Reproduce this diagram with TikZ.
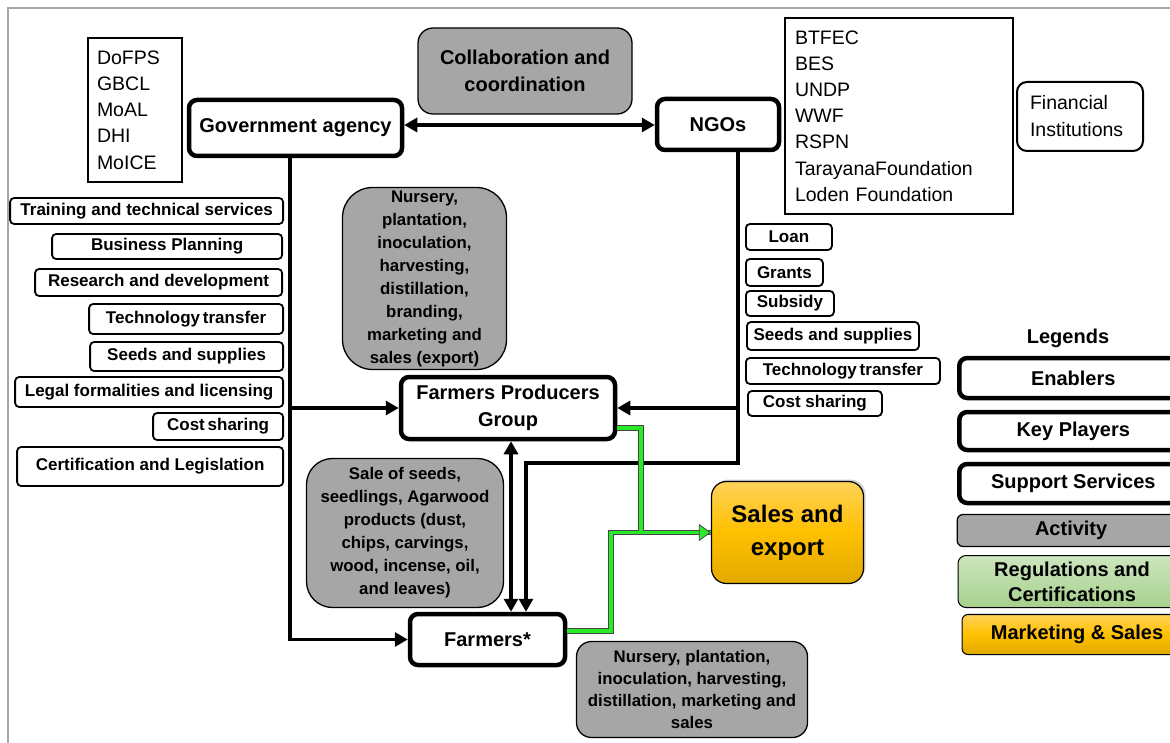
\documentclass[tikz,border=0pt]{standalone}
\usepackage{fontspec}
\setmainfont{Liberation Sans}
\usetikzlibrary{arrows.meta,shadows}

% Colours of the boxes and the green links
\definecolor{actgray}{RGB}{166,166,166}
\definecolor{linegreen}{RGB}{40,235,40}
\definecolor{edgegray}{RGB}{70,70,70}
\definecolor{salestop}{RGB}{255,210,90}
\definecolor{salesmid}{RGB}{255,192,0}
\definecolor{salesbot}{RGB}{226,170,0}
\definecolor{regtop}{RGB}{204,230,190}
\definecolor{regbot}{RGB}{166,208,140}

\newcommand{\setfs}[2]{\fontsize{#1}{#2}\selectfont}

\begin{document}
\begin{tikzpicture}[x=1pt, y=-1pt,
    keybox/.style={draw, line width=4.5, rounded corners=8, fill=white, inner sep=0, align=center, font=\bfseries\setfs{20}{27}},
    supbox/.style={draw, line width=1.8, rounded corners=4, fill=white, inner sep=0, font=\bfseries\setfs{17}{20}},
    actbox/.style={draw, line width=1.3, fill=actgray, inner sep=0, align=center, font=\bfseries\setfs{16.8}{23}},
    listbox/.style={draw, line width=1.6, inner sep=0, align=left, font=\setfs{19.5}{26.2}},
    legbox/.style={anchor=west, minimum width=228, align=center, font=\bfseries\setfs{20}{25}},
    flow/.style={line width=3.5, -{Triangle[length=13, width=14]}},
    twoway/.style={line width=3.5, {Triangle[length=13, width=14]}-{Triangle[length=13, width=14]}},
    greenedge/.style={draw=edgegray, line width=5.6},
    greencore/.style={draw=linegreen, line width=3.8}
]

    % Fix the frame of the picture and cut what runs past its right edge
    \clip (0,0) rectangle (1170,743);
    \fill[white] (0,0) rectangle (1170,743);
    \draw[gray!70, line width=1.2] (8,743) -- (8,8) -- (1170,8);

    % Define the guide lines of the connectors
    \coordinate (GovLine) at (290,0);
    \coordinate (NgoLine) at (738,0);
    \coordinate (MidLine) at (511,0);
    \coordinate (NgoBend) at (526,463);
    \coordinate (FpgOut) at (641,428);
    \coordinate (FarmOut) at (611,631);

    % Key players
    \node[keybox, minimum width=213, minimum height=56] (gov) at (295.5,128) {Government agency};
    \node[keybox, minimum width=122, minimum height=51] (ngo) at (718,124.5) {NGOs};
    \node[keybox, minimum width=214, minimum height=62] (fpg) at (508,408) {Farmers Producers\\Group};
    \node[keybox, minimum width=155, minimum height=51] (farm) at (487.5,639.5) {Farmers*};

    % Member lists and financial institutions
    \node[listbox, minimum width=94, minimum height=144, text width=76, inner xsep=9] (govlist) at (135,110) {DoFPS\\GBCL\\MoAL\\DHI\\MoICE};
    \node[listbox, minimum width=228, minimum height=196, text width=208, inner xsep=10] (ngolist) at (899,116) {BTFEC\\BES\\UNDP\\WWF\\RSPN\\TarayanaFoundation\\Loden Foundation};
    \node[listbox, rounded corners=10, line width=2, minimum width=126, minimum height=69, text width=100, inner xsep=13, font=\setfs{19.5}{27}] (fin) at (1080,116.5) {Financial\\Institutions};

    % Collaboration between government and NGOs
    \node[actbox, rounded corners=15, minimum width=214, minimum height=86, font=\bfseries\setfs{20}{27}] (collab) at (525,71) {Collaboration and\\coordination};

    % Support services of the government agency
    \node[supbox, anchor=east, minimum width=273, minimum height=26] (train) at (284,211) {Training and technical services};
    \node[supbox, anchor=east, minimum width=230, minimum height=25] (plan) at (283,246.5) {Business Planning};
    \node[supbox, anchor=east, minimum width=247, minimum height=27] (research) at (283,282.5) {Research and development};
    \node[supbox, anchor=east, minimum width=194, minimum height=30] (tech) at (284,319) {Technology\,transfer};
    \node[supbox, anchor=east, minimum width=193, minimum height=29] (seeds) at (284,356.5) {Seeds and supplies};
    \node[supbox, anchor=east, minimum width=268, minimum height=30] (legal) at (284,392) {Legal formalities and licensing};
    \node[supbox, anchor=east, minimum width=130, minimum height=27] (cost) at (284,426.5) {Cost\,sharing};
    \node[supbox, anchor=east, minimum width=266, minimum height=39] (cert) at (284,466.5) {Certification and Legislation};

    % Support services of the NGOs
    \node[supbox, anchor=west, minimum width=86, minimum height=26] (loan) at (745,237) {Loan};
    \node[supbox, anchor=west, minimum width=77, minimum height=27] (grants) at (745,272.5) {Grants};
    \node[supbox, anchor=west, minimum width=88, minimum height=25] (subsidy) at (745,303.5) {Subsidy};
    \node[supbox, anchor=west, minimum width=172, minimum height=28] (seedsngo) at (746,336) {Seeds and supplies};
    \node[supbox, anchor=west, minimum width=194, minimum height=26] (techngo) at (745,371) {Technology\,transfer};
    \node[supbox, anchor=west, minimum width=134, minimum height=25] (costngo) at (747,403.5) {Cost sharing};

    % Activities
    \node[actbox, rounded corners=30, minimum width=164, minimum height=182] (actfpg) at (424.5,278.5) {Nursery,\\plantation,\\inoculation,\\harvesting,\\distillation,\\branding,\\marketing and\\sales (export)};
    \node[actbox, rounded corners=26, minimum width=197, minimum height=149] (actsale) at (405,533) {Sale of seeds,\\seedlings, Agarwood\\products (dust,\\chips, carvings,\\wood, incense, oil,\\and leaves)};
    \node[actbox, rounded corners=15, minimum width=231, minimum height=96, font=\bfseries\setfs{16.8}{22.3}] (actfarm) at (692,689.5) {Nursery, plantation,\\inoculation, harvesting,\\distillation, marketing and\\sales};

    % Sales and export
    \node[draw, line width=1.2, rounded corners=15, top color=salestop, bottom color=salesbot, middle color=salesmid,
          drop shadow={opacity=0.35, shadow xshift=2, shadow yshift=-2},
          minimum width=152, minimum height=102, align=center, font=\bfseries\setfs{24}{33}] (sales) at (787.5,532.5) {Sales and\\export};

    % Legends
    \node[font=\bfseries\setfs{20}{24}] (legtitle) at (1068,338) {Legends};
    \node[keybox, legbox, minimum height=40] (legenab) at (957,378) {Enablers};
    \node[keybox, legbox, minimum height=38] (legkey) at (957,431) {Key Players};
    \node[keybox, legbox, minimum height=39] (legsup) at (957,483.5) {Support Services};
    \node[draw, line width=1.3, fill=actgray, rounded corners=6, legbox, minimum height=32] (legact) at (956.5,530.5) {Activity};
    \node[draw, line width=1, top color=regtop, bottom color=regbot, rounded corners=8, legbox, minimum height=52] (legreg) at (957.5,581.5) {Regulations and\\Certifications};
    \node[draw, line width=1, top color=salestop, bottom color=salesbot, middle color=salesmid, rounded corners=6,
          drop shadow={opacity=0.3, shadow xshift=1.5, shadow yshift=-1.5}, legbox, minimum width=230, minimum height=40] (legmkt) at (961.5,634.5) {Marketing \& Sales};

    % Collaboration link between government agency and NGOs
    \draw[twoway] ([yshift=3]gov.east) -- ([yshift=3]gov.east -| ngo.west);

    % Links from the government agency
    \draw[flow] (gov.south -| GovLine) |- (farm.west);
    \draw[flow] (GovLine |- fpg.west) -- (fpg.west);

    % Links from the NGOs
    \draw[flow] (NgoLine |- fpg.east) -- (fpg.east);
    \draw[flow] (ngo.south -| NgoLine) |- (NgoBend) -- (NgoBend |- farm.north);

    % Link between producers group and farmers
    \draw[twoway] (fpg.south -| MidLine) -- (farm.north -| MidLine);

    % Green links to sales and export
    \draw[greenedge] (fpg.east |- FpgOut) -- (FpgOut) |- (sales.west);
    \draw[greenedge] (farm.east |- FarmOut) -- (FarmOut) |- (sales.west);
    \draw[greencore] (fpg.east |- FpgOut) -- (FpgOut) |- (sales.west);
    \draw[greencore, -{Triangle[length=12, width=17, fill=linegreen, color=edgegray, line width=0.8]}] (farm.east |- FarmOut) -- (FarmOut) |- (sales.west);

\end{tikzpicture}
\end{document}
